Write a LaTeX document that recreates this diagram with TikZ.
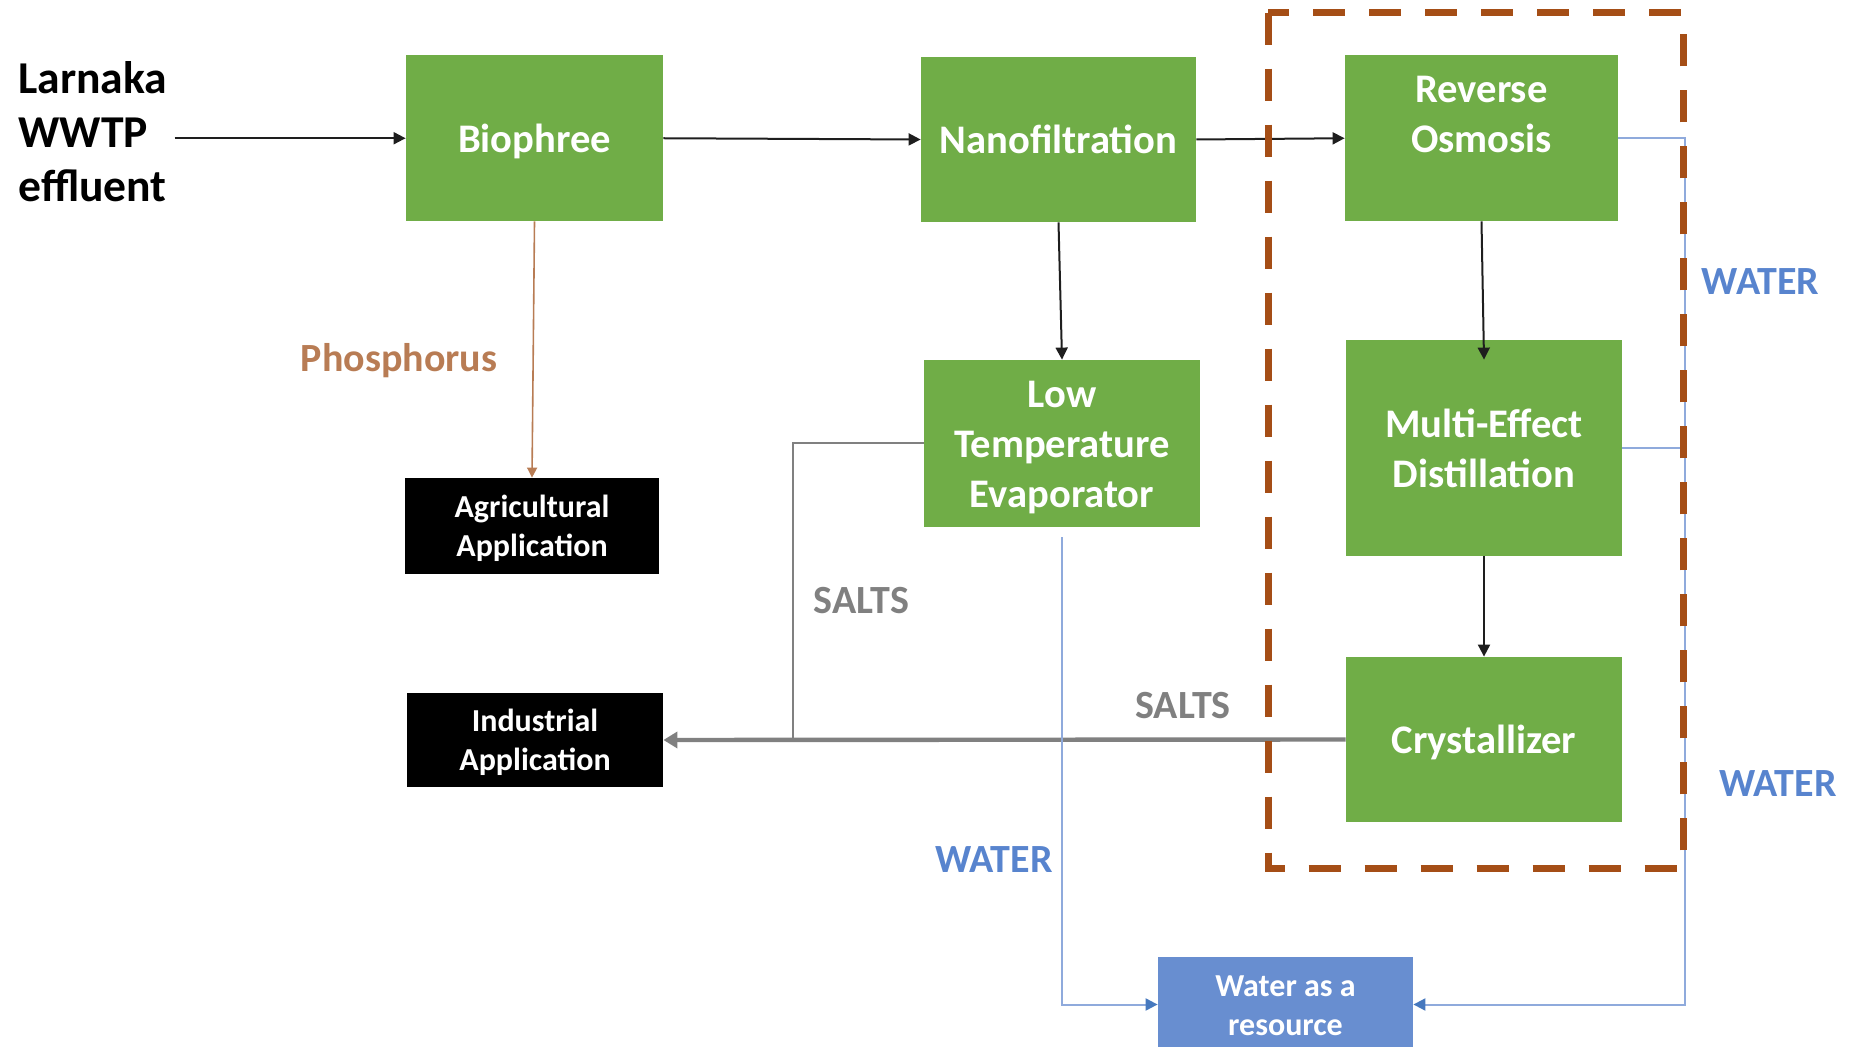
\documentclass[tikz,border=0pt]{standalone}
\usepackage{fontspec}
\setmainfont{Carlito}
\usetikzlibrary{arrows.meta}
\definecolor{boxgreen}{RGB}{112,173,71}
\definecolor{boxblue}{RGB}{104,142,208}
\definecolor{dashbrown}{RGB}{165,78,22}
\definecolor{phos}{RGB}{184,124,84}
\definecolor{waterline}{RGB}{143,170,220}
\definecolor{watertxt}{RGB}{88,132,206}
\definecolor{waterhead}{RGB}{70,120,190}
\definecolor{saltgray}{RGB}{128,128,128}
\definecolor{flowblack}{RGB}{30,30,30}
\newcommand\grstrut{\rule[-5pt]{0pt}{24.4pt}}
\newcommand\smstrut{\rule[-3.6pt]{0pt}{18.2pt}}
\begin{document}
\begin{tikzpicture}[x=0.5pt,y=-0.5pt,
  proc/.style={fill=boxgreen, text=white, font=\bfseries\fontsize{20.3pt}{25pt}\selectfont, align=center, inner sep=0pt},
  usebox/.style={fill=black, text=white, font=\bfseries\fontsize{16pt}{19.5pt}\selectfont, align=center, inner sep=0pt},
  resbox/.style={fill=boxblue, text=white, font=\bfseries\fontsize{16pt}{19.5pt}\selectfont, align=center, inner sep=0pt},
  lbl/.style={font=\bfseries\fontsize{20pt}{24pt}\selectfont, inner sep=0pt},
  flow/.style={draw=flowblack, line width=1pt, -{Triangle[length=6pt,width=6pt]}},
  phosflow/.style={draw=phos, line width=0.8pt, -{Triangle[length=5pt,width=5pt]}},
  waterflow/.style={draw=waterline, line width=1pt},
  waterarrow/.style={draw=waterline, line width=1pt, -{Triangle[length=6pt,width=6pt,color=waterhead]}},
  saltmain/.style={draw=saltgray, line width=2.2pt, -{Triangle[length=7pt,width=8pt]}},
  saltside/.style={draw=saltgray, line width=1pt},
  group/.style={draw=dashbrown, line width=3.5pt, dash pattern=on 16pt off 12pt}
]
\useasboundingbox (0,0) rectangle (1852,1047);

% source text
\node[anchor=west, align=left, inner sep=0pt, font=\bfseries\fontsize{22.8pt}{27pt}\selectfont] (src) at (18,132) {Larnaka\\WWTP\\effluent};

% process boxes
\node[proc, minimum width=128.5pt, minimum height=82.75pt] (bio) at (534.5,138.25) {\grstrut Biophree\grstrut};
\node[proc, minimum width=137.5pt, minimum height=82.5pt] (nf) at (1058.5,139.5) {\grstrut Nanofiltration\grstrut};
\node[proc, minimum width=136.5pt, minimum height=82.75pt] (ro) at (1481.5,138.25) {\grstrut Reverse\\Osmosis\\\grstrut};
\node[proc, minimum width=138pt, minimum height=83.5pt] (lte) at (1062,443.5) {\grstrut Low\\Temperature\\Evaporator\grstrut};
\node[proc, minimum width=138pt, minimum height=108pt] (med) at (1484,448) {\grstrut Multi-Effect\\Distillation\grstrut};
\node[proc, minimum width=138pt, minimum height=82.5pt] (cry) at (1484,739.5) {\grstrut Crystallizer\grstrut};

% use boxes
\node[usebox, minimum width=127pt, minimum height=48pt] (agr) at (532,526) {\smstrut Agricultural\\Application\smstrut};
\node[usebox, minimum width=128pt, minimum height=47pt] (ind) at (535,740) {\smstrut Industrial\\Application\smstrut};
\node[resbox, minimum width=127.5pt, minimum height=47.5pt] (wat) at (1285.5,1004.5) {\smstrut Water as a\\resource\smstrut};

% labels
\node[lbl, text=phos] (lphos) at (399,361) {Phosphorus};
\node[lbl, text=saltgray] (lsalt1) at (861.5,601) {SALTS};
\node[lbl, text=saltgray] (lsalt2) at (1183,706) {SALTS};
\node[lbl, text=watertxt] (lwat1) at (1760.5,282) {WATER};
\node[lbl, text=watertxt] (lwat2) at (1778,784) {WATER};
\node[lbl, text=watertxt] (lwat3) at (994,860) {WATER};

% helper coordinates
\path ([xshift=3.5pt]src.east) coordinate (srcE);
\coordinate (sj) at (793,740);
\coordinate (wr) at (1685,0);
\path ([yshift=-5pt]lte.south) coordinate (lteS);

% main flow
\draw[flow] (srcE |- bio.west) -- (bio.west);
\draw[flow] (bio.east) -- (nf.west);
\draw[flow] (nf.east) -- (ro.west);
\draw[flow] (nf.south) -- (lte.north);
\draw[flow] (ro.south) -- ([yshift=-10pt]med.north);
\draw[flow] (med.south) -- (cry.north);

% phosphorus
\draw[phosflow] (bio.south) -- (agr.north);

% salts
\draw[saltside] (lte.west) -| (sj);
\draw[saltmain] (cry.west) -- (ind.east);

% water
\draw[waterarrow] (lteS) -- (lteS |- wat.west) -- (wat.west);
\draw[waterflow] (med.east) -- (med.east -| wr);
\draw[waterarrow] (ro.east) -- (ro.east -| wr) -- (wr |- wat.east) -- (wat.east);

% dashed group
\draw[group] (1268,12.7) rectangle (1683,868);
\end{tikzpicture}
\end{document}
